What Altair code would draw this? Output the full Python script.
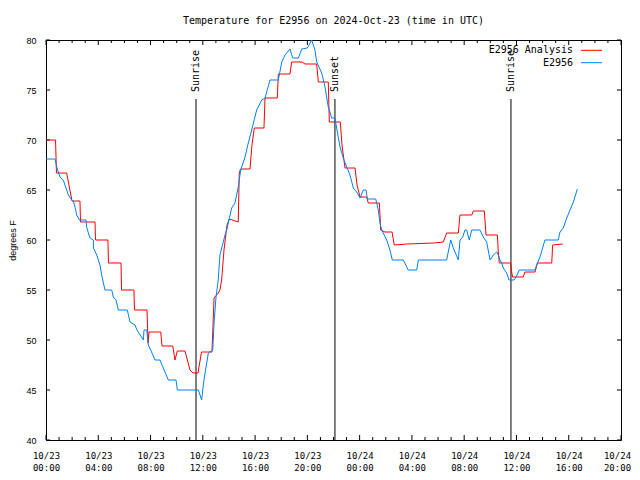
import altair as alt
import pandas as pd

# ---- data (hours since 2024-10-23 00:00 UTC, degrees F) ----
analysis_hours = [
    0.00, 0.73, 0.80, 1.58, 1.99, 2.60, 2.64, 3.75, 3.79, 4.74,
    4.78, 5.74, 5.78, 6.73, 6.77, 7.73, 7.81, 7.88, 8.78, 8.88,
    9.70, 9.87, 10.05, 10.64, 11.02, 11.25, 11.63, 11.90, 12.70, 12.86,
    13.18, 13.31, 13.44, 13.62, 13.85, 14.03, 14.71, 14.79, 14.88, 15.61,
    15.76, 15.94, 16.68, 16.76, 17.70, 17.78, 18.67, 18.80, 19.59, 19.82,
    20.71, 20.84, 21.60, 21.68, 22.52, 22.65, 22.88, 23.65, 23.80, 24.03,
    24.54, 24.66, 25.51, 25.61, 25.94, 26.48, 26.65, 27.60, 29.64, 30.40,
    30.66, 31.55, 31.68, 32.58, 32.70, 33.54, 33.67, 34.54, 34.61, 34.69,
    35.56, 35.64, 35.71, 36.52, 36.65, 37.42, 37.60, 38.70, 38.77, 39.54,
]
analysis_temps = [
    70.0, 70.0, 66.7, 66.7, 63.9, 63.9, 61.8, 61.8, 60.0, 60.0,
    57.7, 57.7, 55.0, 55.0, 53.0, 53.0, 49.7, 50.8, 50.8, 49.4,
    49.4, 48.0, 48.9, 48.9, 47.0, 46.7, 46.7, 48.8, 48.8, 54.2,
    54.7, 55.0, 56.0, 59.0, 61.5, 62.1, 61.8, 66.7, 67.1, 67.1,
    69.5, 71.2, 71.2, 74.2, 74.2, 76.6, 76.6, 77.8, 77.8, 77.6,
    77.6, 75.8, 75.8, 71.8, 71.8, 69.5, 67.2, 67.2, 65.5, 64.3,
    64.3, 63.7, 63.7, 61.0, 60.8, 60.8, 59.5, 59.6, 59.7, 59.8,
    60.7, 60.7, 62.5, 62.5, 62.9, 62.9, 60.5, 60.5, 58.8, 57.7,
    57.7, 56.7, 56.3, 56.3, 56.8, 56.8, 57.7, 57.7, 59.5, 59.6,
]

obs_hours = [
    0.00, 0.69, 0.82, 0.94, 1.07, 1.32, 1.45, 1.58, 1.71, 1.97,
    2.09, 2.22, 2.35, 2.47, 2.55, 3.06, 3.11, 3.24, 3.37, 3.62,
    3.63, 3.88, 4.13, 4.26, 4.51, 5.03, 5.15, 5.36, 5.53, 6.22,
    6.43, 6.81, 6.96, 7.45, 7.50, 7.71, 7.83, 8.01, 8.34, 8.72,
    9.36, 9.95, 10.05, 11.66, 11.91, 12.04, 12.17, 12.30, 12.42, 12.76,
    12.86, 13.01, 13.18, 13.31, 13.70, 13.83, 14.21, 14.46, 14.71, 14.90,
    15.23, 15.48, 15.74, 16.12, 16.51, 16.76, 17.14, 17.78, 18.04, 18.29,
    18.67, 18.88, 19.31, 19.57, 20.00, 20.33, 20.58, 20.71, 21.10, 21.35,
    21.60, 21.73, 21.86, 22.11, 22.24, 22.50, 22.75, 23.01, 23.26, 23.52,
    23.78, 24.03, 24.28, 24.49, 24.59, 25.23, 25.43, 25.56, 25.69, 26.07,
    26.32, 26.50, 27.34, 27.72, 28.37, 28.49, 30.66, 30.78, 30.97, 31.17,
    31.55, 31.68, 31.89, 32.06, 32.19, 32.39, 32.58, 33.21, 33.46, 33.72,
    33.98, 34.23, 34.49, 34.61, 34.74, 34.87, 34.99, 35.25, 35.43, 35.81,
    35.97, 36.22, 37.42, 37.55, 37.80, 38.18, 39.20, 39.33, 39.58, 39.85,
    40.10, 40.36, 40.66,
]
obs_temps = [
    68.1, 68.1, 67.3, 66.8, 66.3, 66.0, 65.5, 65.0, 64.5, 64.0,
    63.9, 63.3, 62.5, 62.2, 62.0, 62.0, 61.3, 60.7, 60.2, 60.0,
    59.2, 58.5, 57.5, 56.5, 55.0, 55.0, 54.3, 54.0, 53.0, 53.0,
    51.8, 51.5, 51.0, 50.0, 51.0, 51.0, 49.5, 49.0, 48.0, 48.0,
    46.0, 46.0, 45.0, 45.0, 44.0, 45.5, 46.7, 47.7, 48.7, 49.0,
    51.7, 54.3, 56.0, 58.5, 60.5, 61.0, 63.2, 63.7, 65.3, 67.0,
    68.3, 69.7, 71.0, 73.0, 74.0, 74.2, 76.0, 76.0, 77.8, 78.5,
    79.1, 78.2, 78.2, 79.1, 79.2, 80.0, 79.0, 77.8, 76.7, 75.3,
    73.3, 72.8, 72.2, 72.2, 71.2, 69.3, 68.2, 67.3, 66.5, 65.2,
    64.8, 64.2, 65.0, 65.0, 64.1, 64.1, 63.0, 61.7, 61.0, 60.0,
    59.0, 58.0, 58.0, 57.0, 57.0, 58.0, 58.0, 58.8, 60.0, 59.2,
    58.0, 60.0, 60.3, 61.0, 61.0, 60.0, 61.0, 61.0, 60.3, 59.8,
    58.0, 58.5, 58.8, 58.5, 58.0, 57.7, 57.2, 56.7, 56.0, 56.0,
    56.3, 57.0, 57.0, 57.5, 58.3, 60.0, 60.0, 60.8, 61.2, 62.2,
    63.0, 63.8, 65.1,
]

event_names = ["Sunrise", "Sunset", "Sunrise"]
event_hours = [11.48, 22.11, 35.58]

series_names = ["E2956 Analysis", "E2956"]
series_colors = ["#ff0000", "#0080ff"]

y_ticks = [40, 45, 50, 55, 60, 65, 70, 75, 80]
x_major_hours = list(range(0, 45, 4))
x_minor_hours = [h for h in range(0, 45) if h % 4 != 0]

title_text = "Temperature for E2956 on 2024-Oct-23 (time in UTC)"
y_title = "degrees F"

# ---- helpers ----
BASE = pd.Timestamp("2024-10-23 00:00:00")


def to_iso(hours):
    return [(BASE + pd.to_timedelta(h, unit="h")).strftime("%Y-%m-%dT%H:%M:%SZ") for h in hours]


def dt(h):
    return alt.DateTime(year=2024, month=10, date=23 + h // 24, hours=h % 24, utc=True)


W, H = 575, 400
MONO = "DejaVu Sans Mono"

last_ms = int(pd.Timestamp("2024-10-24 20:00", tz="UTC").timestamp() * 1000)

xscale = alt.Scale(type="utc", domain=[dt(0), dt(44)])
yscale = alt.Scale(domain=[40, 80], nice=False, zero=False)

xaxis = alt.Axis(
    values=[dt(h) for h in x_major_hours],
    labelExpr="[utcFormat(datum.value, '%m/%d'), utcFormat(datum.value, '%H:%M')]",
    ticks=False, tickSize=0, domain=False, grid=False,
    labelFont=MONO, labelFontSize=9, labelColor="black",
    labelPadding=11, labelLineHeight=12, labelAngle=0,
    labelOffset={"condition": {"test": f"datum.value >= {last_ms}", "value": -4}, "value": 0},
    labelFlush=False, labelOverlap=False, title=None,
)
yaxis = alt.Axis(
    values=y_ticks, ticks=False, tickSize=0, domain=False, grid=False,
    labelFont="Liberation Sans", labelFontSize=9, labelColor="black", labelPadding=10,
    title=y_title, titleFont="Liberation Sans", titleFontSize=9, titleFontWeight="normal",
    titleColor="black", titleX=-34, titleY=200, titleAngle=270,
    titleAlign="center", titleBaseline="middle",
)


def X(field):
    return alt.X(field, type="temporal", scale=xscale, axis=xaxis)


def Y(field):
    return alt.Y(field, type="quantitative", scale=yscale, axis=yaxis)


analysis_df = pd.DataFrame({"t": to_iso(analysis_hours), "v": analysis_temps})
obs_df = pd.DataFrame({"t": to_iso(obs_hours), "v": obs_temps})
events_df = pd.DataFrame({"t": to_iso(event_hours), "name": event_names})
xmaj_df = pd.DataFrame({"t": to_iso(x_major_hours)})
xmin_df = pd.DataFrame({"t": to_iso(x_minor_hours)})
ytk_df = pd.DataFrame({"v": y_ticks})

red_line = alt.Chart(analysis_df).mark_line(color=series_colors[0], strokeWidth=1).encode(
    x=X("t"), y=Y("v"))
blue_line = alt.Chart(obs_df).mark_line(color=series_colors[1], strokeWidth=1).encode(
    x=X("t"), y=Y("v"))

event_rules = alt.Chart(events_df).mark_rule(color="black", strokeWidth=1).encode(
    x=X("t"),
    y=alt.YDatum(74.1, type="quantitative", scale=yscale, axis=yaxis),
    y2=alt.Y2Datum(40),
)
event_text = alt.Chart(events_df).mark_text(
    angle=270, align="left", baseline="middle", font=MONO, fontSize=10, color="black"
).encode(
    x=X("t"),
    y=alt.YDatum(74.8, type="quantitative", scale=yscale, axis=yaxis),
    text="name:N",
)

tick_layers = [
    alt.Chart(xmaj_df).mark_rule(color="black").encode(x=X("t"), y=alt.value(H), y2=alt.value(H - 5)),
    alt.Chart(xmaj_df).mark_rule(color="black").encode(x=X("t"), y=alt.value(0), y2=alt.value(5)),
    alt.Chart(xmin_df).mark_rule(color="black").encode(x=X("t"), y=alt.value(H), y2=alt.value(H - 3)),
    alt.Chart(xmin_df).mark_rule(color="black").encode(x=X("t"), y=alt.value(0), y2=alt.value(3)),
    alt.Chart(ytk_df).mark_rule(color="black").encode(y=Y("v"), x=alt.value(0), x2=alt.value(4)),
    alt.Chart(ytk_df).mark_rule(color="black").encode(y=Y("v"), x=alt.value(W), x2=alt.value(W - 4)),
]

legend_layers = []
for i, (nm, col) in enumerate(zip(series_names, series_colors)):
    yy = 10.3 + 12.4 * i
    legend_layers.append(
        alt.Chart(pd.DataFrame({"name": [nm]})).mark_text(
            align="right", baseline="middle", font=MONO, fontSize=10, color="black"
        ).encode(text="name:N", x=alt.value(527), y=alt.value(yy))
    )
    legend_layers.append(
        alt.Chart(pd.DataFrame({"name": [nm]})).mark_rule(color=col, strokeWidth=1).encode(
            x=alt.value(535), x2=alt.value(556), y=alt.value(yy))
    )

title_layer = alt.Chart(pd.DataFrame({"name": [title_text]})).mark_text(
    align="center", baseline="alphabetic", font=MONO, fontSize=10, color="black"
).encode(text="name:N", x=alt.value(W / 2), y=alt.value(-16))

chart = alt.layer(
    *tick_layers, event_rules, event_text, red_line, blue_line, *legend_layers, title_layer
).properties(
    width=W, height=H,
    autosize=alt.AutoSizeParams(type="none"),
    padding={"left": 38, "top": 32, "right": 11, "bottom": 32},
    background="white",
).configure_view(stroke="black", strokeWidth=1)

chart.save("out.html", embed_options={"renderer": "svg", "actions": False})
